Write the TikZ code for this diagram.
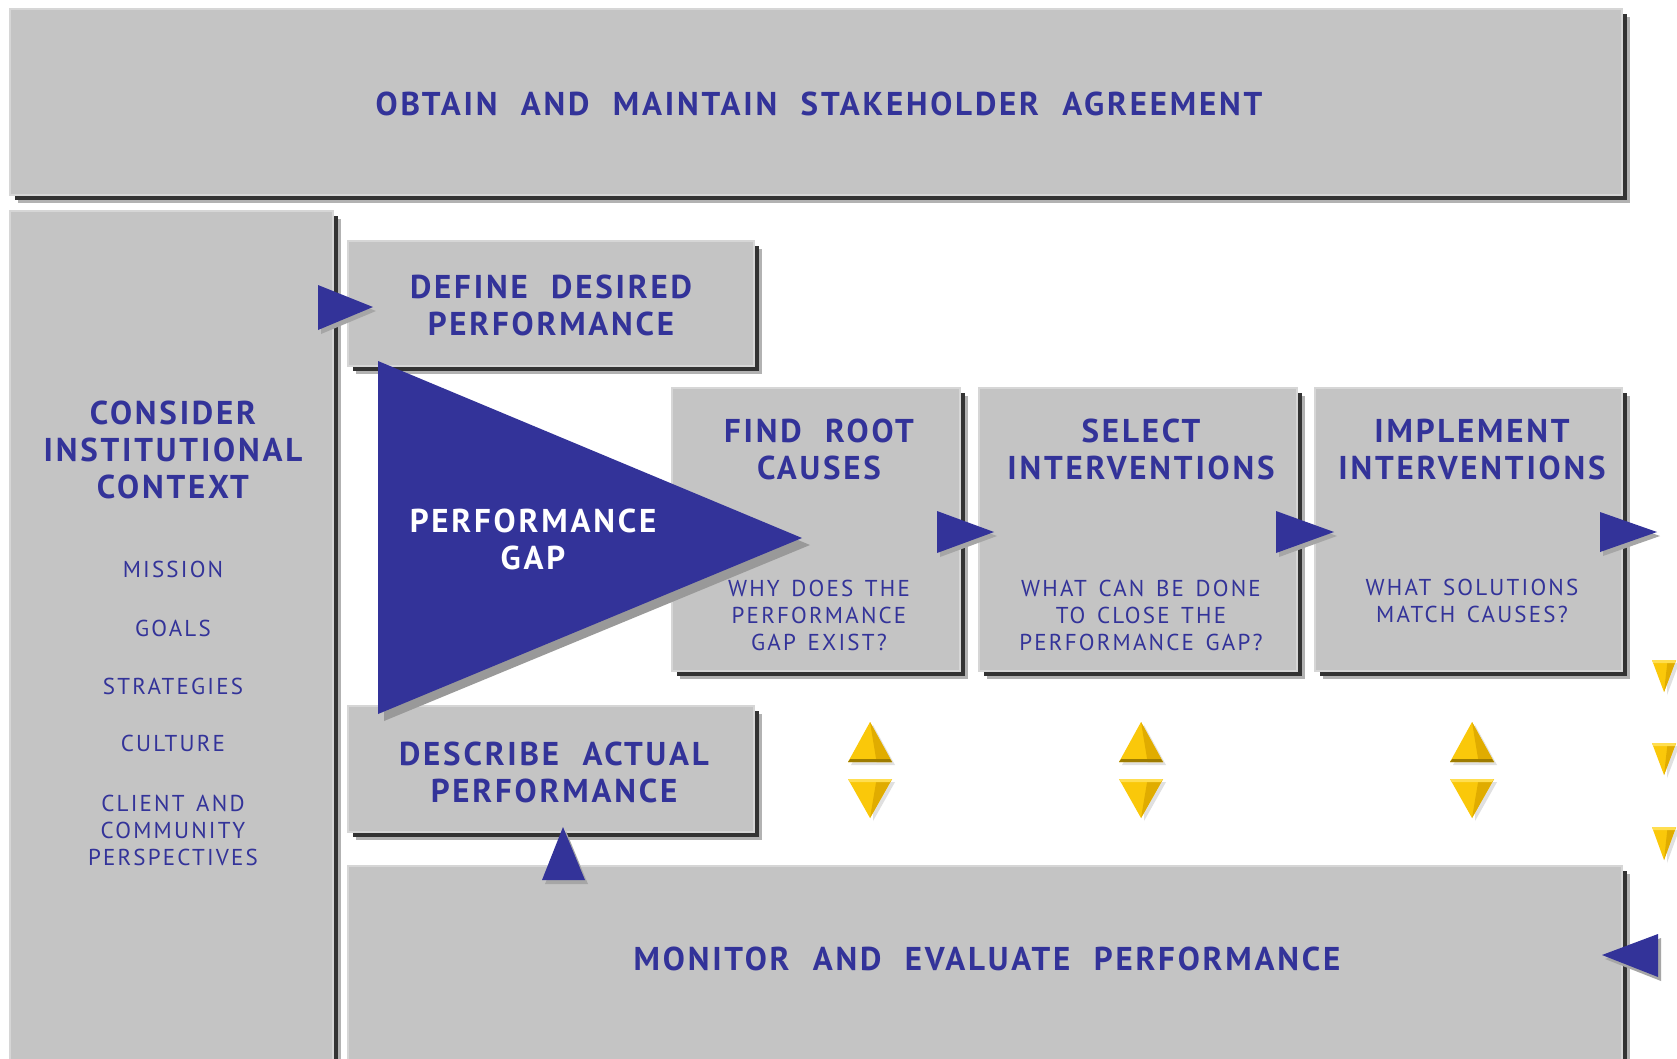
\documentclass[tikz,border=0pt]{standalone}
\usepackage{fontspec}
\setmainfont{PT Sans}
\newfontfamily\hfont[LetterSpace=8.5,WordSpace=2.1]{PT Sans}
\newfontfamily\qfont[LetterSpace=9.5,WordSpace=1.4]{PT Sans}
\usetikzlibrary{shadows}
\definecolor{panel}{HTML}{C4C4C4}
\definecolor{panelhi}{HTML}{D6D6D6}
\definecolor{ink}{HTML}{333399}
\definecolor{gapblue}{HTML}{333399}
\definecolor{gold}{HTML}{FAC80A}
\definecolor{goldmid}{HTML}{E0AC00}
\definecolor{golddark}{HTML}{9E7C00}
\definecolor{goldlight}{HTML}{FFDE50}
\newcommand\bluetri[6]{% shadow, then body: three vertices
  \fill[black!35] (#1+3,#2+4) -- (#3+3,#4+4) -- (#5+3,#6+4) -- cycle;
  \fill[gapblue] (#1,#2) -- (#3,#4) -- (#5,#6) -- cycle;}
\newcommand\yup[4]{% cx, apex y, base y, half width
  \fill[black!12] (#1+3,#2+3) -- (#1+#4+3,#3+3) -- (#1-#4+3,#3+3) -- cycle;
  \fill[gold] (#1,#2) -- (#1+#4,#3) -- (#1-#4,#3) -- cycle;
  \fill[goldmid] (#1,#2) -- (#1+#4,#3) -- (#1+#4*0.3,#3) -- cycle;
  \fill[golddark] (#1-#4,#3) -- (#1+#4,#3) -- (#1+#4*0.9,#3-3) -- (#1-#4*0.9,#3-3) -- cycle;}
\newcommand\ydown[4]{% cx, top y, apex y, half width
  \fill[black!12] (#1+3,#2+3) -- (#1+#4+3,#2+3) -- (#1+3,#3+3) -- cycle;
  \fill[gold] (#1-#4,#2) -- (#1+#4,#2) -- (#1,#3) -- cycle;
  \fill[goldmid] (#1+#4*0.3,#2) -- (#1+#4,#2) -- (#1,#3) -- cycle;
  \fill[goldlight] (#1-#4,#2) -- (#1+#4,#2) -- (#1+#4*0.9,#2+3) -- (#1-#4*0.9,#2+3) -- cycle;}
\begin{document}
\begin{tikzpicture}[x=1pt,y=-1pt,
  panel/.style={fill=panel, draw=panelhi, line width=2pt, anchor=north west,
    inner sep=0pt, outer sep=0pt,
    general shadow={fill=black!30, shadow xshift=8pt, shadow yshift=-8pt},
    general shadow={fill=black!80, shadow xshift=5pt, shadow yshift=-5pt}},
  head/.style={font=\hfont\bfseries\fontsize{33}{37}\selectfont, text=ink,
    align=center, inner sep=0pt},
  quest/.style={font=\qfont\fontsize{23}{27}\selectfont, text=ink,
    align=center, inner sep=0pt},
  gaptext/.style={head, text=white}]
\useasboundingbox (0,0) rectangle (1677,1058);
\fill[white] (0,0) rectangle (1677,1058);
\begin{scope}
\clip (0,0) rectangle (1677,1058);
% panels
\node[panel, minimum width=1612, minimum height=186] (top) at (10,9) {};
\node[panel, minimum width=323, minimum height=860] (left) at (10,211) {};
\node[panel, minimum width=406, minimum height=125] (define) at (348,241) {};
\node[panel, minimum width=288, minimum height=283] (find) at (672,388) {};
\node[panel, minimum width=318, minimum height=283] (select) at (979,388) {};
\node[panel, minimum width=307, minimum height=283] (impl) at (1315,388) {};
\node[panel, minimum width=406, minimum height=126] (describe) at (348,706) {};
\node[panel, minimum width=1274, minimum height=200] (monitor) at (348,866) {};
% performance gap triangle
\fill[black!40] (384,368) -- (810,545) -- (384,721) -- cycle;
\fill[gapblue] (378,361) -- (802,538) -- (378,714) -- cycle;
% blue arrow markers
\bluetri{318}{285}{373}{307}{318}{330}
\bluetri{937}{511}{994}{532}{937}{553}
\bluetri{1276}{511}{1334}{532}{1276}{553}
\bluetri{1600}{512}{1657}{532}{1600}{552}
\bluetri{563}{827}{585}{880}{542}{880}
\bluetri{1602}{955}{1658}{934}{1658}{977}
% yellow arrow pairs
\yup{870}{722}{762}{22}
\ydown{870}{779}{818}{22}
\yup{1141}{722}{762}{22}
\ydown{1141}{779}{818}{22}
\yup{1472}{722}{762}{22}
\ydown{1472}{779}{818}{22}
\ydown{1664}{660}{692}{12}
\ydown{1664}{743}{775}{12}
\ydown{1664}{827}{860}{12}
\end{scope}
% texts
\node[head] (ttop) at (819,104) {OBTAIN AND MAINTAIN STAKEHOLDER AGREEMENT};
\node[head] (tleft) at (173,449.5) {CONSIDER\\INSTITUTIONAL\\CONTEXT};
\node[quest] (tmission) at (173,569) {MISSION};
\node[quest] (tgoals) at (173,628) {GOALS};
\node[quest] (tstrat) at (173,686) {STRATEGIES};
\node[quest] (tcult) at (173,743) {CULTURE};
\node[quest] (tclient) at (173,830) {CLIENT AND\\COMMUNITY\\PERSPECTIVES};
\node[head] (tdefine) at (551,305.5) {DEFINE DESIRED\\PERFORMANCE};
\node[gaptext] (tgap) at (533,539) {PERFORMANCE\\GAP};
\node[head] (tfind) at (819,449.5) {FIND ROOT\\CAUSES};
\node[quest] (qfind) at (819,615) {WHY DOES THE\\PERFORMANCE\\GAP EXIST?};
\node[head] (tselect) at (1141,449.5) {SELECT\\INTERVENTIONS};
\node[quest] (qselect) at (1141,615) {WHAT CAN BE DONE\\TO CLOSE THE\\PERFORMANCE GAP?};
\node[head] (timpl) at (1472,449.5) {IMPLEMENT\\INTERVENTIONS};
\node[quest] (qimpl) at (1472,601) {WHAT SOLUTIONS\\MATCH CAUSES?};
\node[head] (tdescribe) at (554,772.5) {DESCRIBE ACTUAL\\PERFORMANCE};
\node[head] (tmonitor) at (987,959) {MONITOR AND EVALUATE PERFORMANCE};
\end{tikzpicture}
\end{document}
